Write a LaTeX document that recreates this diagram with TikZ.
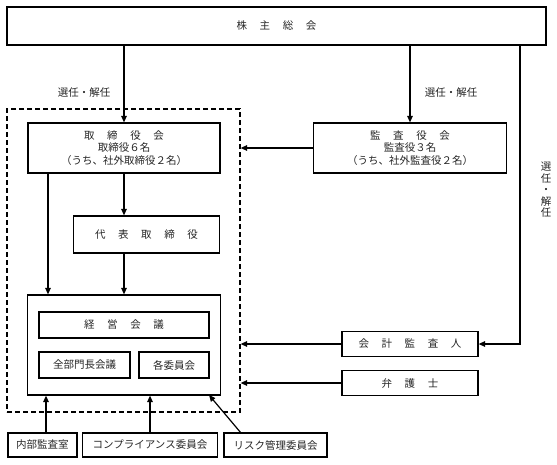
\documentclass[tikz,border=0pt]{standalone}
\usepackage{fontspec}
\setmainfont{Noto Sans CJK JP}
\usetikzlibrary{arrows.meta}
\newcommand{\gsp}{\hspace{1.2em}}
\begin{document}
\begin{tikzpicture}[x=1pt,y=-1pt,
  box/.style={draw, line width=1.2pt, inner sep=0pt, align=center,
    font=\fontsize{10.5}{12.5}\selectfont, text=black!85},
  arr/.style={line width=1.2pt, -{Triangle[length=6.5pt,width=5.5pt]}},
  lbl/.style={inner sep=0pt, align=center, font=\fontsize{10.5}{11.5}\selectfont, text=black!85},
  dashbox/.style={draw, line width=1.2pt, dash pattern=on 5pt off 3pt, inner sep=0pt}]
\useasboundingbox (0,0) rectangle (557,464);
% dashed enclosure
\node[dashbox, minimum width=233pt, minimum height=303pt] (dash) at (123.5,260.5) {};
% nodes
\node[box, minimum width=539pt, minimum height=38pt] (gm) at (276.5,26) {株\gsp 主\gsp 総\gsp 会};
\node[box, minimum width=192pt, minimum height=50pt] (bod) at (124,148) {取\gsp 締\gsp 役\gsp 会\\取締役６名\\（うち、社外取締役２名）};
\node[box, minimum width=193pt, minimum height=50pt] (kansa) at (410,148) {監\gsp 査\gsp 役\gsp 会\\監査役３名\\（うち、社外監査役２名）};
\node[box, minimum width=146pt, minimum height=37pt] (rep) at (146.5,234.5) {代\gsp 表\gsp 取\gsp 締\gsp 役};
\node[box, minimum width=193pt, minimum height=100pt] (outer) at (124,345) {};
\node[box, minimum width=170pt, minimum height=26pt] (keiei) at (124,325) {経\gsp 営\gsp 会\gsp 議};
\node[box, minimum width=91pt, minimum height=26pt] (zenbu) at (84.5,365) {全部門長会議};
\node[box, minimum width=70pt, minimum height=26pt] (kaku) at (174,365) {各委員会};
\node[box, minimum width=136pt, minimum height=25pt] (kaikei) at (410,344) {会\gsp 計\gsp 監\gsp 査\gsp 人};
\node[box, minimum width=136pt, minimum height=25pt] (bengo) at (410,383) {弁\gsp 護\gsp 士};
\node[box, minimum width=69pt, minimum height=24pt] (naibu) at (42.5,445) {内部監査室};
\node[box, minimum width=135pt, minimum height=24pt] (comp) at (150,445) {コンプライアンス委員会};
\node[box, minimum width=103pt, minimum height=24pt] (risk) at (275.5,445) {リスク管理委員会};
% labels
\node[lbl] (l1) at (84,93) {選任・解任};
\node[lbl] (l2) at (451,93) {選任・解任};
\node[lbl] (l3) at (546,190) {選\\任\\・\\解\\任};
% helper coordinates
\coordinate (rline) at (520,0);
\coordinate (lx) at (48,0);
\coordinate (nx) at (46,0);
\coordinate (rs) at (241,433);
\coordinate (re) at (209,395);
% connectors
\draw[arr] (gm.south -| bod.north) -- (bod.north);
\draw[arr] (gm.south -| kansa.north) -- (kansa.north);
\draw[arr] (gm.south -| rline) |- (kaikei.east);
\draw[arr] (kansa.west) -- (kansa.west -| dash.east);
\draw[arr] (bod.south) -- (bod.south |- rep.north);
\draw[arr] (bod.south -| lx) -- (outer.north -| lx);
\draw[arr] (rep.south -| outer.north) -- (outer.north);
\draw[arr] (kaikei.west) -- (kaikei.west -| dash.east);
\draw[arr] (bengo.west) -- (bengo.west -| dash.east);
\draw[arr] (naibu.north -| nx) -- (outer.south -| nx);
\draw[arr] (comp.north) -- (comp.north |- outer.south);
\draw[arr] (rs) -- (re);
\end{tikzpicture}
\end{document}
